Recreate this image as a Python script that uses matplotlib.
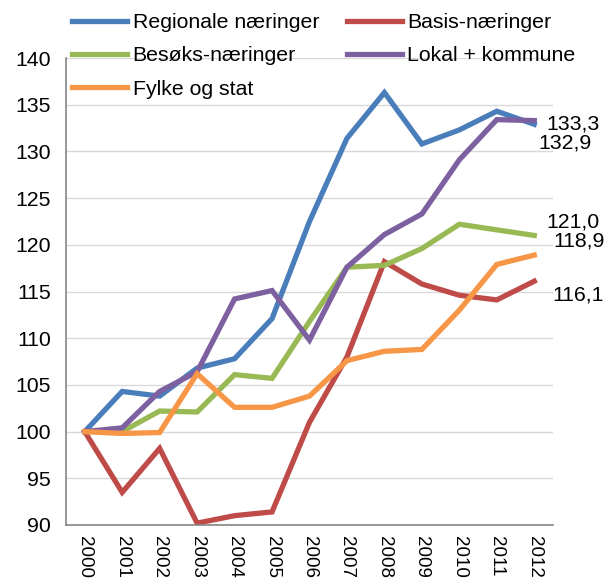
import matplotlib
matplotlib.use("Agg")
import matplotlib.pyplot as plt

years = [str(y) for y in range(2000, 2013)]
regionale = [100, 104.3, 103.8, 106.8, 107.8, 112.1, 122.5, 131.4, 136.3, 130.8, 132.3, 134.3, 132.9]
basis = [100, 93.5, 98.2, 90.2, 91.0, 91.4, 101.0, 108.0, 118.2, 115.8, 114.6, 114.1, 116.1]
besoks = [100, 100.0, 102.2, 102.1, 106.1, 105.7, 111.8, 117.6, 117.8, 119.6, 122.2, 121.6, 121.0]
lokal = [100, 100.4, 104.3, 106.4, 114.2, 115.1, 109.8, 117.6, 121.1, 123.3, 129.1, 133.4, 133.3]
fylke = [100, 99.8, 99.9, 106.2, 102.6, 102.6, 103.8, 107.6, 108.6, 108.8, 113.0, 117.9, 118.9]

names = ["Regionale næringer", "Basis-næringer", "Besøks-næringer", "Lokal + kommune", "Fylke og stat"]
colors = ["#4A7EBB", "#BE4B48", "#98B954", "#7D60A0", "#F79646"]
series = [regionale, basis, besoks, lokal, fylke]

end_labels = ["133,3", "132,9", "121,0", "118,9", "116,1"]
end_label_pos = [(12.31, 132.9), (12.1, 130.9), (12.31, 122.4), (12.5, 120.4), (12.48, 114.6)]

plt.rcParams['font.family'] = ['Liberation Sans', 'DejaVu Sans']
FS = 15.3

fig = plt.figure(figsize=(6.15, 5.84), dpi=100)
ax = fig.add_axes([66/615, 1-525/584, (553-66)/615, (525-58)/584])

x = list(range(len(years)))
lines = {}
for name, col, s in zip(names, colors, series):
    ln, = ax.plot(x, s, color=col, lw=3.8, solid_joinstyle='miter', label=name)
    lines[name] = ln

ax.set_xlim(-0.5, len(years) - 0.5)
ax.set_ylim(90, 140)
ax.set_yticks(range(90, 141, 5))
ax.set_xticks(x)
ax.set_xticklabels(years, rotation=270, fontsize=13.5)
ax.tick_params(axis='y', labelsize=FS, length=0, pad=11)
ax.tick_params(axis='x', length=0, pad=8)
ax.grid(axis='y', color='#D9D9D9', lw=1)
ax.set_axisbelow(True)
for sp in ['top', 'right']:
    ax.spines[sp].set_visible(False)
for sp in ['left', 'bottom']:
    ax.spines[sp].set_color('#868686')
    ax.spines[sp].set_linewidth(1.2)

for txt, (px, py) in zip(end_labels, end_label_pos):
    ax.text(px, py, txt, ha='left', va='center', fontsize=FS, clip_on=False)

order = ["Regionale næringer", "Besøks-næringer", "Fylke og stat", "Basis-næringer", "Lokal + kommune"]
fig.legend([lines[n] for n in order], order, ncol=2, frameon=False,
           loc='upper left', bbox_to_anchor=(72/615, 1-13/584), fontsize=FS,
           handlelength=2.6, handletextpad=0.25, columnspacing=1.3,
           labelspacing=0.68, borderpad=0, borderaxespad=0)

fig.savefig("out.png", dpi=100)
